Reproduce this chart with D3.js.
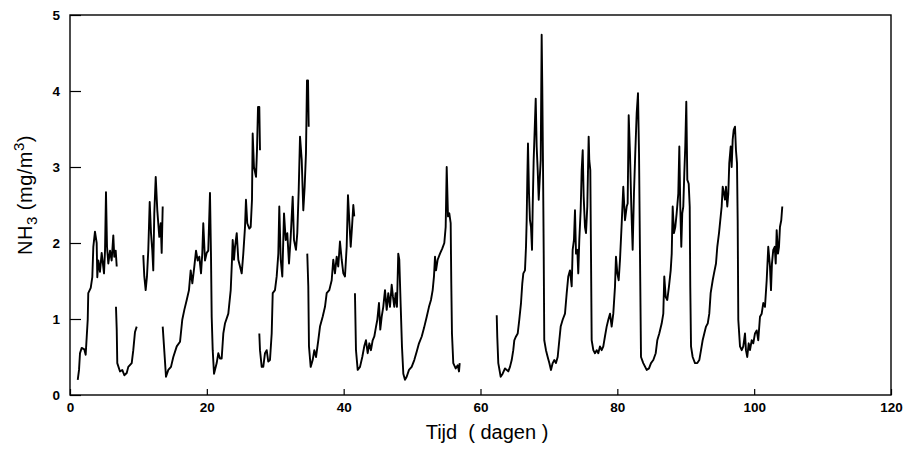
<!DOCTYPE html>
<html>
<head>
<meta charset="utf-8">
<script src="https://cdn.jsdelivr.net/npm/d3@7"></script>
<style>
  html, body { margin: 0; padding: 0; background: #fff; }
  svg { display: block; }
</style>
</head>
<body>
<script>
// ---- Data: NH3 concentration (mg/m3) over time (days); separate measurement runs ----
const seg1 = [[1.13,.20],[1.32,.33],[1.46,.55],[1.71,.62],[2.09,.60],[2.29,.53],[2.44,.76],[2.59,.99],[2.67,1.34],[3.03,1.41],[3.26,1.55],[3.41,1.95],[3.65,2.15],[3.90,2.0],[3.99,1.55],[4.14,1.77],[4.38,1.62],[4.63,1.87],[4.97,1.6],[5.12,1.9],[5.26,2.67],[5.41,1.95],[5.60,1.73],[5.85,1.9],[6.09,1.77],[6.33,2.1],[6.47,1.82],[6.68,1.9],[6.83,1.69]];
const seg2 = [[6.72,1.16],[6.83,.86],[6.91,.42],[7.31,.31],[7.64,.33],[7.94,.26],[8.29,.29],[8.52,.37],[9.02,.42],[9.25,.59],[9.50,.83],[9.75,.9]];
const seg3 = [[10.71,1.84],[10.86,1.56],[11.06,1.38],[11.25,1.56],[11.44,1.9],[11.65,2.54],[11.84,2.13],[12.03,1.9],[12.17,1.64],[12.32,2.39],[12.53,2.87],[12.76,2.43],[13.05,2.08],[13.26,2.26],[13.40,1.87],[13.55,2.48]];
const seg4 = [[13.55,.9],[13.74,.64],[14.03,.24],[14.37,.33],[14.76,.37],[15.10,.5],[15.60,.64],[16.08,.7],[16.41,.99],[16.71,1.12],[17.06,1.25],[17.39,1.38],[17.64,1.64],[17.88,1.47],[18.17,1.69],[18.42,1.9],[18.66,1.77],[18.90,1.82],[19.15,1.6],[19.34,1.87],[19.48,2.26],[19.73,1.77],[19.98,1.87],[20.21,1.9],[20.46,2.66],[20.61,1.82],[20.71,1.03],[20.86,.59],[21.05,.28],[21.44,.42],[21.68,.55],[21.92,.48],[22.17,.48],[22.41,.81],[22.65,.94],[23.14,1.07],[23.49,1.38],[23.68,1.78],[23.78,2.04],[23.97,1.78],[24.12,1.95],[24.37,2.13],[24.60,1.78],[24.85,1.69],[25.10,1.6],[25.33,1.86],[25.58,2.21],[25.72,2.57],[25.91,2.26],[26.21,2.19],[26.41,2.21],[26.60,2.57],[26.70,3.44],[26.89,3.0],[27.19,2.87],[27.33,3.22],[27.48,3.79],[27.67,3.79],[27.77,3.22]];
const seg5 = [[27.67,.81],[27.77,.59],[28.02,.37],[28.25,.37],[28.50,.55],[28.75,.59],[28.98,.44],[29.23,.46],[29.48,.81],[29.63,1.34],[29.96,1.38],[30.21,1.56],[30.45,1.86],[30.59,2.48],[30.80,1.78],[31.03,1.56],[31.28,2.39],[31.53,2.04],[31.76,2.13],[32.01,1.73],[32.26,2.08],[32.55,2.61],[32.74,2.04],[33.03,1.91],[33.22,2.13],[33.43,2.7],[33.62,3.4],[33.87,3.09],[34.10,2.43],[34.30,2.74],[34.49,3.18],[34.64,4.14],[34.79,4.14],[34.89,3.53]];
const seg6 = [[34.68,1.86],[34.83,1.43],[34.93,.64],[35.18,.37],[35.47,.46],[35.71,.59],[35.96,.5],[36.29,.72],[36.54,.9],[36.93,1.03],[37.27,1.16],[37.52,1.34],[37.90,1.38],[38.25,1.51],[38.48,1.78],[38.73,1.6],[38.98,1.82],[39.21,1.69],[39.46,2.02],[39.71,1.78],[39.95,1.6],[40.19,1.56],[40.44,1.95],[40.63,2.63],[40.82,2.3],[41.03,1.95],[41.22,2.21],[41.41,2.5],[41.55,2.35]];
const seg7 = [[41.65,1.34],[41.80,.59],[42.05,.33],[42.39,.37],[42.72,.5],[43.01,.64],[43.26,.72],[43.51,.55],[43.75,.68],[43.99,.59],[44.24,.72],[44.48,.77],[44.73,.9],[44.92,.99],[45.16,1.21],[45.35,.86],[45.56,1.03],[45.79,1.16],[46.04,1.38],[46.29,1.12],[46.52,1.34],[46.77,1.16],[47.02,1.45],[47.21,1.29],[47.40,1.16],[47.60,1.34],[47.79,1.16],[47.98,1.86],[48.13,1.78],[48.34,1.16],[48.52,.64],[48.72,.28],[48.96,.2],[49.21,.24],[49.55,.33],[49.94,.37],[50.32,.46],[50.67,.57],[51.01,.68],[51.41,.77],[51.74,.88],[52.14,1.03],[52.47,1.16],[52.76,1.25],[53.01,1.38],[53.20,1.56],[53.35,1.82],[53.50,1.64],[53.74,1.78],[54.08,1.86],[54.42,1.93],[54.71,2.0],[54.91,2.21],[55.06,3.0],[55.25,2.35],[55.44,2.39],[55.64,2.26],[55.73,1.47],[55.83,.81],[56.02,.42],[56.37,.35],[56.67,.39],[56.86,.31],[56.96,.42]];
const seg8 = [[62.37,1.05],[62.45,.77],[62.60,.42],[62.95,.24],[63.24,.28],[63.58,.35],[63.83,.33],[64.06,.31],[64.31,.37],[64.56,.46],[64.79,.59],[64.94,.72],[65.19,.77],[65.44,.81],[65.67,.99],[65.92,1.21],[66.11,1.47],[66.26,1.6],[66.50,1.64],[66.65,1.95],[66.75,2.3],[66.84,2.83],[66.94,3.31],[67.09,2.65],[67.23,2.3],[67.38,2.21],[67.53,1.91],[67.63,2.48],[67.77,3.09],[67.92,3.49],[68.07,3.9],[68.21,3.27],[68.36,2.96],[68.51,2.57],[68.65,2.83],[68.80,3.09],[68.94,4.74],[69.03,4.06],[69.13,3.09],[69.24,1.86],[69.32,.72],[69.57,.59],[69.82,.5],[70.06,.42],[70.30,.33],[70.55,.42],[70.79,.46],[71.03,.42],[71.28,.5],[71.52,.72],[71.72,.9],[72.01,.99],[72.35,1.07],[72.60,1.34],[72.83,1.56],[73.08,1.64],[73.33,1.43],[73.47,1.91],[73.66,2.04],[73.81,2.43],[73.96,1.86],[74.15,1.91],[74.29,1.6],[74.44,2.04],[74.64,2.43],[74.79,2.96],[74.94,3.22],[75.08,2.61],[75.27,2.21],[75.42,2.13],[75.61,2.48],[75.81,3.4],[75.90,3.09],[76.05,2.96],[76.15,1.86],[76.25,.72],[76.49,.59],[76.73,.55],[76.98,.59],[77.22,.55],[77.46,.64],[77.71,.59],[77.95,.64],[78.19,.77],[78.44,.9],[78.68,.99],[78.93,1.07],[79.17,.9],[79.41,1.07],[79.66,1.43],[79.80,1.82],[80.00,1.6],[80.20,1.51],[80.39,1.78],[80.64,2.26],[80.87,2.74],[81.12,2.3],[81.37,2.48],[81.51,2.52],[81.66,3.68],[81.85,3.18],[82.04,2.48],[82.24,1.91],[82.43,2.65],[82.62,3.18],[82.83,3.71],[83.02,3.97],[83.17,3.18],[83.31,1.86],[83.46,.5],[83.79,.42],[84.29,.33],[84.63,.35],[84.92,.42],[85.26,.46],[85.61,.55],[85.84,.72],[86.13,.81],[86.48,.94],[86.72,1.07],[86.86,1.56],[87.07,1.29],[87.30,1.25],[87.55,1.43],[87.80,1.64],[87.95,1.86],[88.09,2.48],[88.28,2.13],[88.47,2.21],[88.67,2.39],[88.91,2.65],[89.06,3.27],[89.20,2.48],[89.35,1.95],[89.49,2.39],[89.64,2.48],[89.79,2.92],[89.93,3.27],[90.08,3.86],[90.23,2.83],[90.43,2.78],[90.58,2.48],[90.66,1.43],[90.77,.64],[91.01,.5],[91.35,.42],[91.69,.42],[91.98,.46],[92.23,.59],[92.47,.72],[92.71,.81],[92.96,.9],[93.21,.94],[93.44,1.07],[93.64,1.34],[93.94,1.51],[94.13,1.6],[94.42,1.73],[94.61,1.95],[94.86,2.13],[95.05,2.3],[95.25,2.48],[95.40,2.74],[95.59,2.65],[95.73,2.57],[95.88,2.74],[96.07,2.48],[96.22,2.65],[96.36,3.05],[96.57,3.27],[96.71,3.0],[96.86,3.36],[97.01,3.49],[97.20,3.53],[97.34,3.22],[97.49,3.05],[97.59,2.3],[97.68,.99],[97.93,.64],[98.18,.59],[98.41,.64],[98.66,.81],[98.80,.59],[98.99,.5],[99.20,.68],[99.39,.59],[99.64,.72],[99.87,.68],[100.12,.81],[100.37,.85],[100.60,.72],[100.85,1.03],[101.10,1.07],[101.33,1.21],[101.58,1.16],[101.83,1.51],[102.06,1.95],[102.31,1.69],[102.46,1.38],[102.60,1.73],[102.79,1.91],[103.00,1.95],[103.15,1.73],[103.29,2.17],[103.48,1.86],[103.63,1.95],[103.77,2.21],[103.96,2.3],[104.11,2.48]];
const segments = [seg1, seg2, seg3, seg4, seg5, seg6, seg7, seg8];

const xTicks = [0, 20, 40, 60, 80, 100, 120];
const yTicks = [0, 1, 2, 3, 4, 5];
const xTitle = "Tijd  ( dagen )";

// ---- Layout ----
const W = 912, H = 450;
const svg = d3.select("body").append("svg").attr("width", W).attr("height", H)
  .style("background", "#fff");

const x = d3.scaleLinear().domain([0, 120]).range([70, 891]);
const y = d3.scaleLinear().domain([0, 5]).range([395, 15]);

const font = "'Liberation Sans', Arial, Helvetica, sans-serif";

// X axis
const gx = svg.append("g").attr("transform", `translate(0,${y(0)})`)
  .call(d3.axisBottom(x).tickValues(xTicks).tickSize(-6).tickPadding(7).tickFormat(d3.format("d")));
gx.select(".domain").remove();
gx.selectAll("line").attr("stroke", "#000").attr("stroke-width", 1.2);
gx.selectAll("text").attr("font-family", font).style("font-weight", "700")
  .attr("font-size", 13.5).attr("fill", "#000");

// Y axis
const gy = svg.append("g").attr("transform", `translate(${x(0)},0)`)
  .call(d3.axisLeft(y).tickValues(yTicks).tickSize(-11).tickPadding(10).tickFormat(d3.format("d")));
gy.select(".domain").remove();
gy.selectAll("line").attr("stroke", "#000").attr("stroke-width", 1.2);
gy.selectAll("text").attr("font-family", font).style("font-weight", "700")
  .attr("font-size", 13.5).attr("fill", "#000");

// Frame
svg.append("rect")
  .attr("x", x(0)).attr("y", y(5))
  .attr("width", x(120) - x(0)).attr("height", y(0) - y(5))
  .attr("fill", "none").attr("stroke", "#000").attr("stroke-width", 1.4);

// Data line(s)
const line = d3.line().x(d => x(d[0])).y(d => y(d[1]));
svg.append("g").selectAll("path").data(segments).join("path")
  .attr("d", line)
  .attr("fill", "none")
  .attr("stroke", "#000")
  .attr("stroke-width", 1.9)
  .attr("stroke-linejoin", "round");

// X title
svg.append("text")
  .attr("x", 487).attr("y", 439)
  .attr("text-anchor", "middle")
  .attr("font-family", font).attr("font-size", 20).attr("fill", "#000")
  .style("white-space", "pre")
  .text(xTitle);

// Y title: NH3 (mg/m3)
const yt = svg.append("text")
  .attr("transform", `translate(32,195) rotate(-90)`)
  .attr("text-anchor", "middle")
  .attr("font-family", font).attr("font-size", 20).attr("fill", "#000")
  .style("letter-spacing", "0.5px");
yt.append("tspan").text("NH");
yt.append("tspan").attr("dy", 5).attr("font-size", 15).text("3");
yt.append("tspan").attr("dy", -5).text(" (mg/m");
yt.append("tspan").attr("dy", -8).attr("font-size", 15).text("3");
yt.append("tspan").attr("dy", 8).text(")");
</script>
</body>
</html>
